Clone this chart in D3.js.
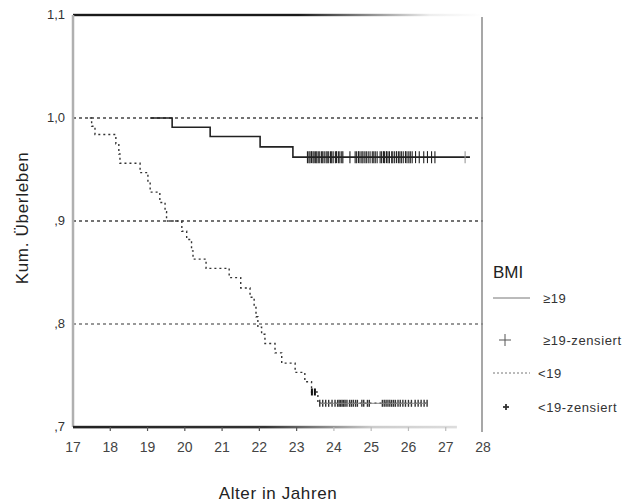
<!DOCTYPE html>
<html><head><meta charset="utf-8">
<script src="https://cdn.jsdelivr.net/npm/d3@7"></script>
<style>body{margin:0;background:#fff;} svg{display:block;font-family:"Liberation Sans",Arial,sans-serif;}</style>
</head><body>
<svg id="c" width="631" height="503"></svg>
<script>
// ---- data ----
const xTicks = [17,18,19,20,21,22,23,24,25,26,27,28];
const yTicks = [0.7,0.8,0.9,1.0,1.1];
const yTickLabels = [",7",",8",",9","1,0","1,1"];
const gridValues = [0.8,0.9,1.0];

// BMI >= 19 (solid)
const highTimes = [19.07,19.66,20.68,22.02,22.90,27.65];
const highSurv  = [1.000,0.991,0.982,0.972,0.962,0.962];
const highCensorAges = [23.29,23.33,23.36,23.40,23.44,23.47,23.51,23.54,23.58,23.62,23.67,23.70,23.74,23.79,23.82,23.86,23.91,23.94,23.98,24.04,24.07,24.12,24.16,24.21,24.24,
  24.43,24.57,24.61,24.66,24.70,24.75,24.78,24.83,24.87,24.92,24.97,25.03,25.07,25.11,25.16,
  25.24,25.28,25.33,25.36,25.41,25.45,25.49,25.55,25.58,25.63,25.68,25.73,25.77,25.81,25.86,25.92,25.96,26.01,26.05,26.10,
  26.19,26.29,26.41,26.51,26.62,26.71,27.52];
const highCensorSurv = 0.962;

// BMI < 19 (dotted)
const lowTimes = [17.45,17.50,17.59,18.15,18.23,18.26,18.80,19.01,19.07,19.33,19.47,19.51,19.92,20.05,20.18,20.22,20.57,21.19,21.50,21.75,21.86,21.91,21.96,22.06,22.15,22.42,22.60,22.96,23.22,23.40,23.57,26.53];
const lowSurv  = [1.000,0.992,0.984,0.975,0.965,0.956,0.947,0.938,0.928,0.918,0.909,0.900,0.890,0.882,0.871,0.863,0.854,0.845,0.835,0.826,0.816,0.807,0.797,0.790,0.781,0.772,0.762,0.753,0.744,0.734,0.723,0.723];
const lowCensorAges1 = [23.41,23.49];
const lowCensorSurv1 = 0.734;
const lowCensorAges2 = [23.62,23.70,23.78,23.86,23.95,24.03,24.10,24.14,24.18,24.22,24.26,24.30,24.35,24.42,24.47,24.52,24.58,24.63,24.75,24.80,24.90,24.95,
  25.30,25.35,25.40,25.45,25.50,25.55,25.60,25.65,25.72,25.78,25.85,25.92,26.00,26.08,26.18,26.26,26.34,26.42,26.50];
const lowCensorSurv2 = 0.723;

const legendLabels = ["\u226519","\u226519-zensiert","<19","<19-zensiert"];

// ---- chart ----
const svg = d3.select("#c");
const x = d3.scaleLinear().domain([17,28]).range([73,483]);
const y = d3.scaleLinear().domain([0.7,1.1]).range([427,15]);

const defs = svg.append("defs");
const gTop = defs.append("linearGradient").attr("id","gTop").attr("x1","0%").attr("x2","100%");
gTop.append("stop").attr("offset","0%").attr("stop-color","#1a1a1a");
gTop.append("stop").attr("offset","55%").attr("stop-color","#1a1a1a");
gTop.append("stop").attr("offset","87%").attr("stop-color","#eee");
gTop.append("stop").attr("offset","100%").attr("stop-color","#fff");
const gBot = defs.append("linearGradient").attr("id","gBot").attr("x1","0%").attr("x2","100%");
gBot.append("stop").attr("offset","0%").attr("stop-color","#222");
gBot.append("stop").attr("offset","50%").attr("stop-color","#333");
gBot.append("stop").attr("offset","78%").attr("stop-color","#ccc");
gBot.append("stop").attr("offset","100%").attr("stop-color","#ddd");

// gridlines
svg.append("g").selectAll("line").data(gridValues).join("line")
  .attr("x1",x(17)).attr("x2",x(28)).attr("y1",d=>y(d)).attr("y2",d=>y(d))
  .attr("stroke",d=>d===0.8?"#777":"#444").attr("stroke-width",1.3).attr("stroke-dasharray","3,3");

// top frame line
svg.append("rect").attr("x",x(17)).attr("y",y(1.1)-1.2).attr("width",x(28)-x(17)).attr("height",2.4).attr("fill","url(#gTop)");
// left axis
svg.append("line").attr("x1",x(17)).attr("x2",x(17)).attr("y1",y(1.1)).attr("y2",y(0.7))
  .attr("stroke","#b0b0b0").attr("stroke-width",2.5);
// right line
svg.append("line").attr("x1",x(28)-1).attr("x2",x(28)-1).attr("y1",17).attr("y2",432)
  .attr("stroke","#8a8a8a").attr("stroke-width",1.5);
// bottom axis
svg.append("rect").attr("x",x(17)).attr("y",y(0.7)-1.2).attr("width",x(27.3)-x(17)).attr("height",2.6).attr("fill","url(#gBot)");
svg.append("g").selectAll("line").data(xTicks.slice(1,-1)).join("line")
  .attr("x1",d=>x(d)).attr("x2",d=>x(d)).attr("y1",y(0.7)).attr("y2",y(0.7)+4)
  .attr("stroke",d=>d<24?"#555":"#bbb").attr("stroke-width",1.2);

// tick labels
svg.append("g").selectAll("text").data(xTicks).join("text")
  .attr("x",d=>x(d)).attr("y",452).attr("text-anchor","middle")
  .attr("font-size",14).attr("fill","#444").text(d=>d);
svg.append("g").selectAll("text").data(yTicks).join("text")
  .attr("x",65).attr("y",d=>y(d)+4).attr("text-anchor","end")
  .attr("font-size",13).attr("fill","#333").text((d,i)=>yTickLabels[i]);

// titles
svg.append("text").attr("x",278).attr("y",499).attr("text-anchor","middle")
  .attr("font-size",17).attr("letter-spacing",0.6).attr("fill","#222").text("Alter in Jahren");
svg.append("text").attr("transform","translate(28,218) rotate(-90)").attr("text-anchor","middle")
  .attr("font-size",17).attr("letter-spacing",0.7).attr("fill","#222").text("Kum. \u00dcberleben");

// curves
const line = d3.line().x(d=>x(d[0])).y(d=>y(d[1])).curve(d3.curveStepAfter);
svg.append("path").datum(highTimes.map((t,i)=>[t,highSurv[i]]))
  .attr("d",line).attr("fill","none").attr("stroke","#222").attr("stroke-width",1.6);
svg.append("path").datum(lowTimes.map((t,i)=>[t,lowSurv[i]]))
  .attr("d",line).attr("fill","none").attr("stroke","#333").attr("stroke-width",1.4).attr("stroke-dasharray","2,3");

// censor marks
svg.append("g").selectAll("line").data(highCensorAges).join("line")
  .attr("x1",d=>x(d)).attr("x2",d=>x(d)).attr("y1",y(highCensorSurv)-6).attr("y2",y(highCensorSurv)+6)
  .attr("stroke",(d,i)=>d>27?"#999":"#222").attr("stroke-width",1.1);
svg.append("g").selectAll("line").data(lowCensorAges1).join("line")
  .attr("x1",d=>x(d)).attr("x2",d=>x(d)).attr("y1",y(lowCensorSurv1)-3.5).attr("y2",y(lowCensorSurv1)+3.5)
  .attr("stroke","#111").attr("stroke-width",2);
svg.append("g").selectAll("line").data(lowCensorAges2).join("line")
  .attr("x1",d=>x(d)).attr("x2",d=>x(d)).attr("y1",y(lowCensorSurv2)-3.5).attr("y2",y(lowCensorSurv2)+3.5)
  .attr("stroke","#333").attr("stroke-width",1.4);
svg.append("line").attr("x1",x(lowCensorAges2[0])).attr("x2",x(d3.max(lowCensorAges2)))
  .attr("y1",y(lowCensorSurv2)).attr("y2",y(lowCensorSurv2)).attr("stroke","#888").attr("stroke-width",1);

// legend
const lg = svg.append("g");
lg.append("text").attr("x",493).attr("y",278).attr("font-size",17).attr("fill","#222").text("BMI");
lg.append("line").attr("x1",493).attr("x2",530).attr("y1",298).attr("y2",298).attr("stroke","#777").attr("stroke-width",1);
lg.append("line").attr("x1",499).attr("x2",511).attr("y1",340).attr("y2",340).attr("stroke","#555").attr("stroke-width",1);
lg.append("line").attr("x1",505).attr("x2",505).attr("y1",334).attr("y2",346).attr("stroke","#555").attr("stroke-width",1);
lg.append("line").attr("x1",493).attr("x2",530).attr("y1",373).attr("y2",373).attr("stroke","#777").attr("stroke-width",1).attr("stroke-dasharray","2,2");
lg.append("line").attr("x1",503).attr("x2",509).attr("y1",407).attr("y2",407).attr("stroke","#333").attr("stroke-width",1.8);
lg.append("line").attr("x1",506).attr("x2",506).attr("y1",404).attr("y2",410).attr("stroke","#333").attr("stroke-width",1.8);
const lx = [543,543,538,538], ly=[303,345,378,412];
lg.selectAll("text.it").data(legendLabels).join("text").attr("class","it")
  .attr("x",(d,i)=>lx[i]).attr("y",(d,i)=>ly[i]).attr("font-size",13).attr("letter-spacing",0.6).attr("fill","#333").text(d=>d);
</script>
</body></html>
